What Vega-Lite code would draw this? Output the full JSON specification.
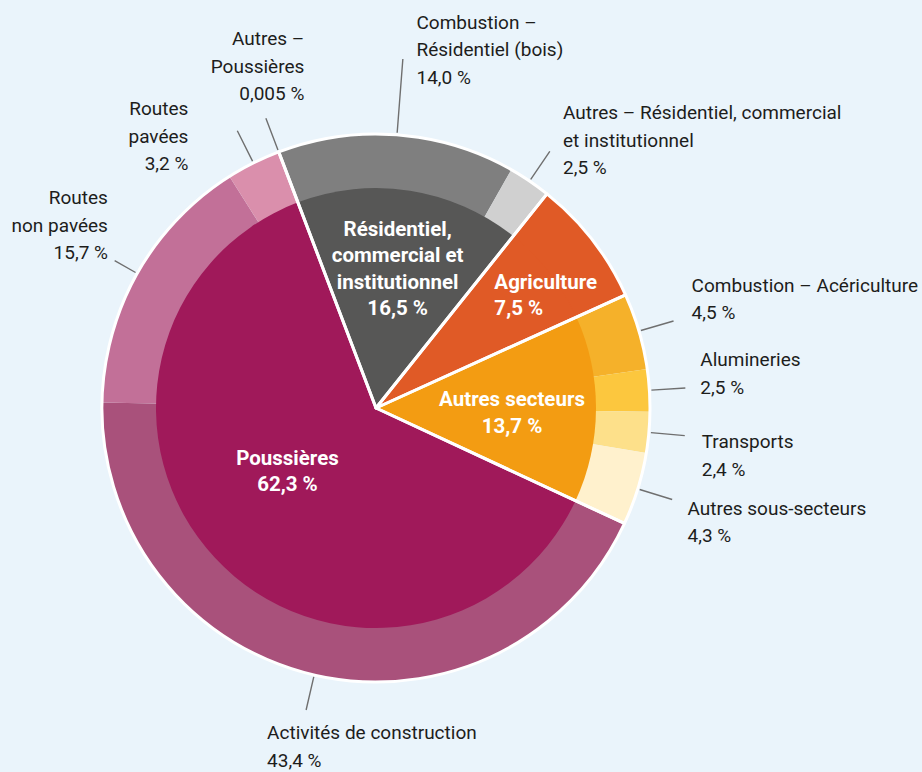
{
  "$schema": "https://vega.github.io/schema/vega-lite/v6.json",
  "width": 752,
  "height": 728,
  "autosize": {"type": "none"},
  "padding": {"left": 0, "top": 44, "right": 170, "bottom": 0},
  "background": "#eaf4fb",
  "view": {"stroke": null},
  "config": {"text": {"font": "Roboto", "lineBreak": "\n"}},
  "datasets": {
    "outer": [
      {"name": "Combustion – Résidentiel (bois)", "group": "Résidentiel, commercial et institutionnel", "value": 14.0, "ord": 1, "label": "Combustion –\nRésidentiel (bois)\n14,0 %"},
      {"name": "Autres – Résidentiel, commercial et institutionnel", "group": "Résidentiel, commercial et institutionnel", "value": 2.5, "ord": 2, "label": "Autres – Résidentiel, commercial\net institutionnel\n2,5 %"},
      {"name": "Agriculture", "group": "Agriculture", "value": 7.5, "ord": 3, "label": ""},
      {"name": "Combustion – Acériculture", "group": "Autres secteurs", "value": 4.5, "ord": 4, "label": "Combustion – Acériculture\n4,5 %"},
      {"name": "Alumineries", "group": "Autres secteurs", "value": 2.5, "ord": 5, "label": "Alumineries\n2,5 %"},
      {"name": "Transports", "group": "Autres secteurs", "value": 2.4, "ord": 6, "label": "Transports\n2,4 %"},
      {"name": "Autres sous-secteurs", "group": "Autres secteurs", "value": 4.3, "ord": 7, "label": "Autres sous-secteurs\n4,3 %"},
      {"name": "Activités de construction", "group": "Poussières", "value": 43.4, "ord": 8, "label": "Activités de construction\n43,4 %"},
      {"name": "Routes non pavées", "group": "Poussières", "value": 15.7, "ord": 9, "label": "Routes\nnon pavées\n15,7 %"},
      {"name": "Routes pavées", "group": "Poussières", "value": 3.2, "ord": 10, "label": "Routes\npavées\n3,2 %"},
      {"name": "Autres – Poussières", "group": "Poussières", "value": 0.005, "ord": 11, "label": "Autres –\nPoussières\n0,005 %"}
    ],
    "inner": [
      {"name": "Résidentiel, commercial et institutionnel", "value": 16.5, "ord": 1, "label": "Résidentiel,\ncommercial et\ninstitutionnel\n16,5 %"},
      {"name": "Agriculture", "value": 7.5, "ord": 2, "label": "Agriculture\n7,5 %"},
      {"name": "Autres secteurs", "value": 13.7, "ord": 3, "label": "Autres secteurs\n13,7 %"},
      {"name": "Poussières", "value": 62.3, "ord": 4, "label": "Poussières\n62,3 %"}
    ]
  },
  "layer": [
    {
      "data": {"name": "outer"},
      "mark": {"type": "arc", "radius": 274},
      "encoding": {
        "theta": {"field": "value", "type": "quantitative", "stack": "normalize", "scale": {"domain": [0, 1], "range": [-0.363, 5.9202]}},
        "color": {
          "field": "name", "type": "nominal", "legend": null,
          "scale": {
            "domain": ["Combustion – Résidentiel (bois)", "Autres – Résidentiel, commercial et institutionnel", "Agriculture", "Combustion – Acériculture", "Alumineries", "Transports", "Autres sous-secteurs", "Activités de construction", "Routes non pavées", "Routes pavées", "Autres – Poussières", "Résidentiel, commercial et institutionnel", "Autres secteurs", "Poussières"],
            "range": ["#7f7f7f", "#d0d0d0", "#e05a26", "#f5b12a", "#fcc73e", "#fde08a", "#fff1cd", "#a9517b", "#c27098", "#da8fac", "#da8fac", "#575756", "#f39c12", "#a0195a"]
          }
        },
        "order": {"field": "ord", "type": "quantitative"}
      }
    },
    {
      "data": {"name": "inner"},
      "mark": {"type": "arc", "radius": 220},
      "encoding": {
        "theta": {"field": "value", "type": "quantitative", "stack": "normalize", "scale": {"domain": [0, 1], "range": [-0.363, 5.9202]}},
        "color": {"field": "name", "type": "nominal", "legend": null},
        "order": {"field": "ord", "type": "quantitative"}
      }
    },
    {
      "data": {"name": "inner"},
      "mark": {"type": "arc", "radius": 274, "filled": false, "stroke": "#ffffff", "strokeWidth": 3, "strokeJoin": "round"},
      "encoding": {
        "theta": {"field": "value", "type": "quantitative", "stack": "normalize", "scale": {"domain": [0, 1], "range": [-0.363, 5.9202]}},
        "detail": {"field": "name", "type": "nominal"},
        "order": {"field": "ord", "type": "quantitative"}
      }
    },
    {
      "data": {"name": "outer"},
      "transform": [
        {"stack": "value", "groupby": [], "offset": "normalize", "sort": [{"field": "ord", "order": "ascending"}], "as": ["v0", "v1"]},
        {"filter": "datum.name !== 'Agriculture' && datum.name !== 'Combustion – Résidentiel (bois)' && datum.name !== 'Routes non pavées'"}
      ],
      "mark": {"type": "arc", "theta": {"expr": "(datum.v0 + datum.v1) * PI - 0.363"}, "theta2": {"expr": "(datum.v0 + datum.v1) * PI - 0.363"}, "radius": 310, "radius2": 276, "filled": false, "stroke": "#6f6f6f", "strokeWidth": 1.4},
      "encoding": {}
    },
    {
      "data": {"name": "outer"},
      "transform": [
        {"stack": "value", "groupby": [], "offset": "normalize", "sort": [{"field": "ord", "order": "ascending"}], "as": ["v0", "v1"]},
        {"filter": "datum.name === 'Routes non pavées'"}
      ],
      "mark": {"type": "arc", "theta": {"expr": "(datum.v0 + datum.v1) * PI - 0.363"}, "theta2": {"expr": "(datum.v0 + datum.v1) * PI - 0.363"}, "radius": 300, "radius2": 276, "filled": false, "stroke": "#6f6f6f", "strokeWidth": 1.4},
      "encoding": {}
    },
    {
      "data": {"name": "outer"},
      "transform": [
        {"stack": "value", "groupby": [], "offset": "normalize", "sort": [{"field": "ord", "order": "ascending"}], "as": ["v0", "v1"]},
        {"filter": "datum.name === 'Combustion – Résidentiel (bois)'"}
      ],
      "mark": {"type": "arc", "theta": {"expr": "(datum.v0 + datum.v1) * PI - 0.363"}, "theta2": {"expr": "(datum.v0 + datum.v1) * PI - 0.363"}, "radius": 350, "radius2": 276, "filled": false, "stroke": "#6f6f6f", "strokeWidth": 1.4},
      "encoding": {}
    },
    {
      "data": {"name": "outer"},
      "mark": {"type": "text", "radius": 358, "align": "left", "baseline": "middle", "fontSize": 19, "lineHeight": 27.5, "color": "#1d1d1b", "dx": 13, "dy": -28.5},
      "encoding": {
        "theta": {"field": "value", "type": "quantitative", "stack": "normalize", "scale": {"domain": [0, 1], "range": [-0.363, 5.9202]}},
        "detail": {"field": "name", "type": "nominal"},
        "order": {"field": "ord", "type": "quantitative"},
        "text": {"condition": {"test": "datum.name === 'Combustion – Résidentiel (bois)'", "field": "label", "type": "nominal"}, "value": ""}
      }
    },
    {
      "data": {"name": "outer"},
      "mark": {"type": "text", "radius": 330, "align": "left", "baseline": "middle", "fontSize": 19, "lineHeight": 27.5, "color": "#1d1d1b", "dx": 2, "dy": -21.5},
      "encoding": {
        "theta": {"field": "value", "type": "quantitative", "stack": "normalize", "scale": {"domain": [0, 1], "range": [-0.363, 5.9202]}},
        "detail": {"field": "name", "type": "nominal"},
        "order": {"field": "ord", "type": "quantitative"},
        "text": {"condition": {"test": "datum.name === 'Autres – Résidentiel, commercial et institutionnel'", "field": "label", "type": "nominal"}, "value": ""}
      }
    },
    {
      "data": {"name": "outer"},
      "mark": {"type": "text", "radius": 333, "align": "left", "baseline": "middle", "fontSize": 19, "lineHeight": 27.5, "color": "#1d1d1b", "dx": -4, "dy": -28.75},
      "encoding": {
        "theta": {"field": "value", "type": "quantitative", "stack": "normalize", "scale": {"domain": [0, 1], "range": [-0.363, 5.9202]}},
        "detail": {"field": "name", "type": "nominal"},
        "order": {"field": "ord", "type": "quantitative"},
        "text": {"condition": {"test": "datum.name === 'Combustion – Acériculture'", "field": "label", "type": "nominal"}, "value": ""}
      }
    },
    {
      "data": {"name": "outer"},
      "mark": {"type": "text", "radius": 325, "align": "left", "baseline": "middle", "fontSize": 19, "lineHeight": 27.5, "color": "#1d1d1b", "dy": -26.75},
      "encoding": {
        "theta": {"field": "value", "type": "quantitative", "stack": "normalize", "scale": {"domain": [0, 1], "range": [-0.363, 5.9202]}},
        "detail": {"field": "name", "type": "nominal"},
        "order": {"field": "ord", "type": "quantitative"},
        "text": {"condition": {"test": "datum.name === 'Alumineries'", "field": "label", "type": "nominal"}, "value": ""}
      }
    },
    {
      "data": {"name": "outer"},
      "mark": {"type": "text", "radius": 327, "align": "left", "baseline": "middle", "fontSize": 19, "lineHeight": 27.5, "color": "#1d1d1b", "dy": 5.25},
      "encoding": {
        "theta": {"field": "value", "type": "quantitative", "stack": "normalize", "scale": {"domain": [0, 1], "range": [-0.363, 5.9202]}},
        "detail": {"field": "name", "type": "nominal"},
        "order": {"field": "ord", "type": "quantitative"},
        "text": {"condition": {"test": "datum.name === 'Transports'", "field": "label", "type": "nominal"}, "value": ""}
      }
    },
    {
      "data": {"name": "outer"},
      "mark": {"type": "text", "radius": 326, "align": "left", "baseline": "middle", "fontSize": 19, "lineHeight": 27.5, "color": "#1d1d1b", "dy": 4.25},
      "encoding": {
        "theta": {"field": "value", "type": "quantitative", "stack": "normalize", "scale": {"domain": [0, 1], "range": [-0.363, 5.9202]}},
        "detail": {"field": "name", "type": "nominal"},
        "order": {"field": "ord", "type": "quantitative"},
        "text": {"condition": {"test": "datum.name === 'Autres sous-secteurs'", "field": "label", "type": "nominal"}, "value": ""}
      }
    },
    {
      "data": {"name": "outer"},
      "mark": {"type": "text", "radius": 350, "align": "left", "baseline": "middle", "fontSize": 19, "lineHeight": 27.5, "color": "#1d1d1b", "dx": -30, "dy": -15.75},
      "encoding": {
        "theta": {"field": "value", "type": "quantitative", "stack": "normalize", "scale": {"domain": [0, 1], "range": [-0.363, 5.9202]}},
        "detail": {"field": "name", "type": "nominal"},
        "order": {"field": "ord", "type": "quantitative"},
        "text": {"condition": {"test": "datum.name === 'Activités de construction'", "field": "label", "type": "nominal"}, "value": ""}
      }
    },
    {
      "data": {"name": "outer"},
      "mark": {"type": "text", "radius": 310, "align": "right", "baseline": "middle", "fontSize": 19, "lineHeight": 27.5, "color": "#1d1d1b", "dx": 2, "dy": -57.5},
      "encoding": {
        "theta": {"field": "value", "type": "quantitative", "stack": "normalize", "scale": {"domain": [0, 1], "range": [-0.363, 5.9202]}},
        "detail": {"field": "name", "type": "nominal"},
        "order": {"field": "ord", "type": "quantitative"},
        "text": {"condition": {"test": "datum.name === 'Routes non pavées'", "field": "label", "type": "nominal"}, "value": ""}
      }
    },
    {
      "data": {"name": "outer"},
      "mark": {"type": "text", "radius": 330, "align": "right", "baseline": "middle", "fontSize": 19, "lineHeight": 27.5, "color": "#1d1d1b", "dx": -40, "dy": -3.5},
      "encoding": {
        "theta": {"field": "value", "type": "quantitative", "stack": "normalize", "scale": {"domain": [0, 1], "range": [-0.363, 5.9202]}},
        "detail": {"field": "name", "type": "nominal"},
        "order": {"field": "ord", "type": "quantitative"},
        "text": {"condition": {"test": "datum.name === 'Routes pavées'", "field": "label", "type": "nominal"}, "value": ""}
      }
    },
    {
      "data": {"name": "outer"},
      "mark": {"type": "text", "radius": 365, "align": "right", "baseline": "middle", "fontSize": 19, "lineHeight": 27.5, "color": "#1d1d1b", "dx": 58, "dy": -27.5},
      "encoding": {
        "theta": {"field": "value", "type": "quantitative", "stack": "normalize", "scale": {"domain": [0, 1], "range": [-0.363, 5.9202]}},
        "detail": {"field": "name", "type": "nominal"},
        "order": {"field": "ord", "type": "quantitative"},
        "text": {"condition": {"test": "datum.name === 'Autres – Poussières'", "field": "label", "type": "nominal"}, "value": ""}
      }
    },
    {
      "data": {"name": "inner"},
      "mark": {"type": "text", "radius": 140, "align": "center", "baseline": "middle", "fontSize": 20.5, "fontWeight": "bold", "lineHeight": 26.5, "color": "#ffffff", "dy": -39.75},
      "encoding": {
        "theta": {"field": "value", "type": "quantitative", "stack": "normalize", "scale": {"domain": [0, 1], "range": [-0.363, 5.9202]}},
        "detail": {"field": "name", "type": "nominal"},
        "order": {"field": "ord", "type": "quantitative"},
        "text": {"condition": {"test": "datum.name === 'Résidentiel, commercial et institutionnel'", "field": "label", "type": "nominal"}, "value": ""}
      }
    },
    {
      "data": {"name": "inner"},
      "mark": {"type": "text", "radius": 150, "align": "left", "baseline": "middle", "fontSize": 20.5, "fontWeight": "bold", "lineHeight": 26.5, "color": "#ffffff", "dy": -33.25},
      "encoding": {
        "theta": {"field": "value", "type": "quantitative", "stack": "normalize", "scale": {"domain": [0, 1], "range": [-0.363, 5.9202]}},
        "detail": {"field": "name", "type": "nominal"},
        "order": {"field": "ord", "type": "quantitative"},
        "text": {"condition": {"test": "datum.name === 'Agriculture'", "field": "label", "type": "nominal"}, "value": ""}
      }
    },
    {
      "data": {"name": "inner"},
      "mark": {"type": "text", "radius": 136, "align": "center", "baseline": "middle", "fontSize": 20.5, "fontWeight": "bold", "lineHeight": 26.5, "color": "#ffffff", "dy": -8.25},
      "encoding": {
        "theta": {"field": "value", "type": "quantitative", "stack": "normalize", "scale": {"domain": [0, 1], "range": [-0.363, 5.9202]}},
        "detail": {"field": "name", "type": "nominal"},
        "order": {"field": "ord", "type": "quantitative"},
        "text": {"condition": {"test": "datum.name === 'Autres secteurs'", "field": "label", "type": "nominal"}, "value": ""}
      }
    },
    {
      "data": {"name": "inner"},
      "mark": {"type": "text", "radius": 110, "align": "center", "baseline": "middle", "fontSize": 20.5, "fontWeight": "bold", "lineHeight": 26.5, "color": "#ffffff", "dx": -8, "dy": -24.25},
      "encoding": {
        "theta": {"field": "value", "type": "quantitative", "stack": "normalize", "scale": {"domain": [0, 1], "range": [-0.363, 5.9202]}},
        "detail": {"field": "name", "type": "nominal"},
        "order": {"field": "ord", "type": "quantitative"},
        "text": {"condition": {"test": "datum.name === 'Poussières'", "field": "label", "type": "nominal"}, "value": ""}
      }
    }
  ]
}
